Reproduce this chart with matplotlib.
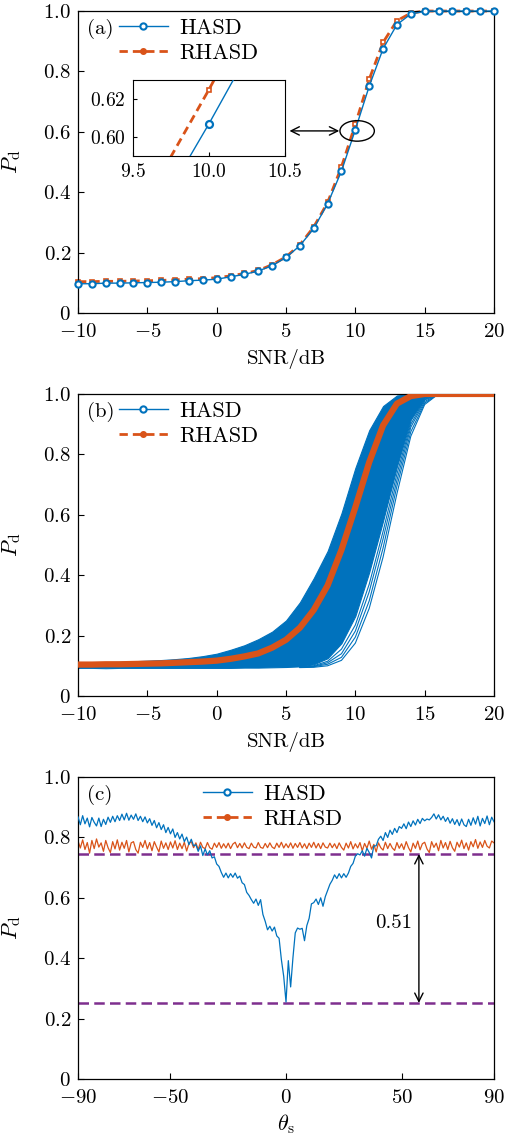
import numpy as np
import matplotlib
matplotlib.use('Agg')
import matplotlib.pyplot as plt
from matplotlib.lines import Line2D
from matplotlib.patches import Ellipse
from matplotlib.ticker import FuncFormatter

plt.rcParams['font.family'] = 'serif'
plt.rcParams['font.serif'] = ['cmr10']
plt.rcParams['mathtext.fontset'] = 'cm'
plt.rcParams['axes.unicode_minus'] = True
plt.rcParams['font.size'] = 15

BLUE = '#0072BD'
ORANGE = '#D95319'
PURPLE = '#7E2F8E'
FS = 15

# ---- panel (a) / (b) data: SNR axis ----
snr = list(range(-10, 21))
hasd_a = [0.097, 0.097, 0.099, 0.099, 0.100, 0.101, 0.102, 0.104, 0.107, 0.109, 0.112,
          0.120, 0.128, 0.139, 0.157, 0.184, 0.223, 0.280, 0.362, 0.470, 0.607,
          0.751, 0.875, 0.955, 0.990, 0.999, 1.0, 1.0, 1.0, 1.0, 1.0]
rhasd_a = [0.104, 0.104, 0.105, 0.105, 0.106, 0.107, 0.108, 0.110, 0.112, 0.114, 0.117,
           0.123, 0.131, 0.141, 0.160, 0.186, 0.226, 0.285, 0.366, 0.484, 0.625,
           0.774, 0.896, 0.968, 0.993, 1.0, 1.0, 1.0, 1.0, 1.0, 1.0]

# panel (b): envelope of the HASD monte-carlo curves
b_upper = [0.110, 0.111, 0.112, 0.113, 0.115, 0.117, 0.119, 0.122, 0.126, 0.132, 0.140,
           0.153, 0.168, 0.188, 0.213, 0.250, 0.310, 0.390, 0.480, 0.605, 0.755,
           0.880, 0.960, 0.995, 1.0, 1.0, 1.0, 1.0, 1.0, 1.0, 1.0]
b_dense = [0.093, 0.093, 0.092, 0.093, 0.093, 0.093, 0.093, 0.093, 0.093, 0.093, 0.093,
           0.093, 0.094, 0.094, 0.095, 0.096, 0.098, 0.105, 0.125, 0.175, 0.265,
           0.410, 0.580, 0.760, 0.915, 0.985, 1.0, 1.0, 1.0, 1.0, 1.0]
snr_hi = list(range(6, 21))
b_line1 = [0.097, 0.100, 0.115, 0.155, 0.235, 0.370, 0.545, 0.735, 0.900, 0.980, 1.0, 1.0, 1.0, 1.0, 1.0]
b_line2 = [0.096, 0.098, 0.110, 0.140, 0.215, 0.345, 0.520, 0.715, 0.890, 0.975, 1.0, 1.0, 1.0, 1.0, 1.0]
b_line3 = [0.095, 0.097, 0.105, 0.128, 0.195, 0.315, 0.490, 0.695, 0.875, 0.970, 1.0, 1.0, 1.0, 1.0, 1.0]
b_lower = [0.094, 0.095, 0.100, 0.118, 0.175, 0.290, 0.460, 0.670, 0.860, 0.965, 1.0, 1.0, 1.0, 1.0, 1.0]

# ---- panel (c) data: theta_s ----
theta = list(range(-90, 91))
hasd_c = [0.868, 0.842, 0.872, 0.845, 0.864, 0.835, 0.866, 0.850, 0.838, 0.864, 0.836,
          0.860, 0.843, 0.867, 0.850, 0.870, 0.852, 0.872, 0.856, 0.877, 0.858,
          0.880, 0.857, 0.874, 0.860, 0.878, 0.856, 0.870, 0.852, 0.868, 0.848,
          0.862, 0.840, 0.856, 0.832, 0.849, 0.826, 0.842, 0.816, 0.833, 0.812,
          0.828, 0.800, 0.816, 0.795, 0.811, 0.786, 0.801, 0.776, 0.794, 0.772,
          0.776, 0.754, 0.772, 0.740, 0.762, 0.742, 0.756, 0.732, 0.736, 0.712,
          0.704, 0.684, 0.668, 0.682, 0.666, 0.680, 0.668, 0.682, 0.665, 0.672,
          0.650, 0.644, 0.618, 0.608, 0.594, 0.582, 0.596, 0.575, 0.594, 0.545,
          0.522, 0.494, 0.506, 0.490, 0.503, 0.474, 0.466, 0.395, 0.340,
          0.255,
          0.392, 0.305, 0.402, 0.484, 0.500, 0.496, 0.499, 0.458, 0.508, 0.532,
          0.580, 0.584, 0.596, 0.578, 0.600, 0.572, 0.604, 0.624, 0.645, 0.658,
          0.676, 0.664, 0.680, 0.666, 0.680, 0.668, 0.682, 0.704, 0.714, 0.738,
          0.746, 0.742, 0.756, 0.738, 0.764, 0.750, 0.732, 0.772, 0.772, 0.794,
          0.804, 0.790, 0.816, 0.800, 0.824, 0.810, 0.830, 0.816, 0.836, 0.830,
          0.845, 0.829, 0.851, 0.836, 0.855, 0.841, 0.860, 0.846, 0.863, 0.855,
          0.861, 0.858, 0.866, 0.878, 0.861, 0.875, 0.858, 0.870, 0.853, 0.866,
          0.847, 0.862, 0.843, 0.859, 0.839, 0.861, 0.842, 0.836, 0.860, 0.840,
          0.865, 0.844, 0.870, 0.838, 0.863, 0.846, 0.871, 0.842, 0.867, 0.852]
rhasd_c = [0.788, 0.765, 0.792, 0.760, 0.783, 0.748, 0.790, 0.763, 0.795, 0.768,
           0.782, 0.754, 0.790, 0.766, 0.750, 0.786, 0.762, 0.792, 0.758, 0.784,
           0.764, 0.790, 0.752, 0.782, 0.786, 0.760, 0.748, 0.784, 0.767, 0.790,
           0.762, 0.783, 0.756, 0.786, 0.768, 0.752, 0.788, 0.764, 0.782, 0.760,
           0.785, 0.765, 0.789, 0.760, 0.781, 0.763, 0.784, 0.755, 0.780, 0.786,
           0.766, 0.782, 0.760, 0.784, 0.767, 0.763, 0.783, 0.766, 0.761, 0.781,
           0.767, 0.783, 0.764, 0.779, 0.765, 0.781, 0.763, 0.778, 0.784, 0.766,
           0.780, 0.765, 0.782, 0.767, 0.763, 0.781, 0.768, 0.765, 0.783, 0.767,
           0.764, 0.780, 0.766, 0.782, 0.768, 0.763, 0.781, 0.767, 0.784, 0.765,
           0.779,
           0.766, 0.782, 0.764, 0.780, 0.767, 0.783, 0.765, 0.779, 0.763, 0.781,
           0.767, 0.784, 0.765, 0.780, 0.763, 0.782, 0.768, 0.765, 0.781, 0.766,
           0.779, 0.763, 0.782, 0.767, 0.758, 0.781, 0.765, 0.786, 0.762, 0.779,
           0.765, 0.783, 0.756, 0.780, 0.764, 0.788, 0.761, 0.777, 0.752, 0.782,
           0.766, 0.758, 0.784, 0.763, 0.780, 0.765, 0.757, 0.783, 0.764, 0.779,
           0.760, 0.786, 0.766, 0.752, 0.781, 0.764, 0.788, 0.759, 0.779, 0.784,
           0.762, 0.750, 0.786, 0.767, 0.781, 0.756, 0.790, 0.765, 0.783, 0.760,
           0.787, 0.766, 0.754, 0.784, 0.768, 0.791, 0.763, 0.782, 0.758, 0.786,
           0.769, 0.793, 0.764, 0.785, 0.767, 0.790, 0.771, 0.765, 0.788, 0.782]
pd_high = 0.745
pd_low = 0.252
gap_text = '0.51'

fmt_x = FuncFormatter(lambda v, p: '$%g$' % v)
fmt_y = FuncFormatter(lambda v, p: '$0$' if v == 0 else '$%.1f$' % v)


def style(ax, xticks, xlim):
    ax.set_xlim(*xlim)
    ax.set_ylim(0, 1)
    ax.set_xticks(xticks)
    ax.set_yticks(np.arange(0, 1.01, 0.2))
    ax.xaxis.set_major_formatter(fmt_x)
    ax.yaxis.set_major_formatter(fmt_y)
    ax.tick_params(direction='in', length=4, width=0.8, labelsize=FS)
    ax.tick_params(axis='x', pad=7)
    ax.tick_params(axis='y', pad=5)
    for s in ax.spines.values():
        s.set_linewidth(0.9)
    ax.set_ylabel(r'$P_{\mathrm{d}}$', fontsize=FS + 1)
    ax.yaxis.set_label_coords(-0.132, 0.5)


def add_legend(ax, x0, tag):
    ax.legend([h_hasd, h_rhasd], ['HASD', 'RHASD'], loc='upper left', bbox_to_anchor=(x0, 0.975),
              frameon=False, fontsize=FS + 1, handlelength=2.2, handletextpad=0.5, borderpad=0,
              borderaxespad=0, labelspacing=0.25)
    ax.text(0.022, 0.94, tag, transform=ax.transAxes, fontsize=FS, va='center')


h_hasd = Line2D([], [], color=BLUE, lw=1.0, marker='o', ms=4.5, mfc='white', mew=1.5)
h_rhasd = Line2D([], [], color=ORANGE, lw=2.0, ls=(0, (3, 1.8)), marker='o', ms=4, mfc=ORANGE, mew=1)

fig = plt.figure(figsize=(5.06, 11.35), dpi=100)
ax_a = fig.add_axes([0.1542, 0.7242, 0.8221, 0.2661])
ax_b = fig.add_axes([0.1542, 0.3868, 0.8221, 0.2661])
ax_c = fig.add_axes([0.1542, 0.0493, 0.8221, 0.2661])

# (a)
ax_a.plot(snr, hasd_a, color=BLUE, lw=1.0, marker='o', ms=4.5, mfc='white', mew=1.5, zorder=3,
          clip_on=False)
ax_a.plot(snr, rhasd_a, color=ORANGE, lw=2.0, ls=(0, (3, 1.8)), marker='s', ms=3.5,
          mfc='white', mew=1.2, zorder=2, clip_on=False)
style(ax_a, [-10, -5, 0, 5, 10, 15, 20], (-10, 20))
ax_a.set_xlabel('SNR/dB', fontsize=FS, labelpad=6)
add_legend(ax_a, 0.098, '(a)')
ax_a.add_patch(Ellipse((10.13, 0.603), 2.48, 0.068, fill=False, ec='k', lw=1.0, zorder=5))
ax_a.annotate('', xy=(8.84, 0.603), xytext=(5.25, 0.603),
              arrowprops=dict(arrowstyle='<->', color='k', lw=1.0, shrinkA=0, shrinkB=0))

ins = fig.add_axes([133 / 506, 1 - 156 / 1135, 152 / 506, 76 / 1135])
ins.plot(snr, hasd_a, color=BLUE, lw=1.0, marker='o', ms=5, mfc='white', mew=1.6, zorder=3)
ins.plot(snr, rhasd_a, color=ORANGE, lw=2.0, ls=(0, (3, 1.8)), marker='s', ms=3.5,
         mfc='white', mew=1.2, zorder=2)
ins.set_xlim(9.5, 10.5)
ins.set_ylim(0.59, 0.63)
ins.set_xticks([9.5, 10.0, 10.5])
ins.set_yticks([0.60, 0.62])
ins.xaxis.set_major_formatter(FuncFormatter(lambda v, p: '$%.1f$' % v))
ins.yaxis.set_major_formatter(FuncFormatter(lambda v, p: '$%.2f$' % v))
ins.tick_params(direction='in', length=3, width=0.8, pad=5, labelsize=FS - 1)

# (b)
ax_b.fill_between(snr, b_dense, b_upper, color=BLUE, lw=0.8, ec=BLUE)
for line in (b_line1, b_line2, b_line3, b_lower):
    ax_b.plot(snr_hi, line, color=BLUE, lw=0.8)
ax_b.plot(snr, rhasd_a, color=ORANGE, lw=4.5, solid_capstyle='butt', zorder=4)
style(ax_b, [-10, -5, 0, 5, 10, 15, 20], (-10, 20))
ax_b.set_xlabel('SNR/dB', fontsize=FS, labelpad=6)
add_legend(ax_b, 0.098, '(b)')

# (c)
ax_c.plot(theta, hasd_c, color=BLUE, lw=0.9, zorder=3)
ax_c.plot(theta, rhasd_c, color=ORANGE, lw=0.9, zorder=2)
ax_c.axhline(pd_high, color=PURPLE, lw=1.8, ls=(0, (4.2, 2.1)), zorder=1)
ax_c.axhline(pd_low, color=PURPLE, lw=1.8, ls=(0, (4.2, 2.1)), zorder=1)
ax_c.annotate('', xy=(57.5, pd_low), xytext=(57.5, pd_high),
              arrowprops=dict(arrowstyle='<->', color='k', lw=1.0, shrinkA=0, shrinkB=0))
ax_c.text(46.4, 0.515, gap_text, ha='center', va='center', fontsize=FS)
style(ax_c, [-90, -50, 0, 50, 90], (-90, 90))
ax_c.set_xlabel(r'$\theta_{\mathrm{s}}$', fontsize=FS + 1, labelpad=4)
add_legend(ax_c, 0.3, '(c)')

fig.savefig('out.png', dpi=100)
